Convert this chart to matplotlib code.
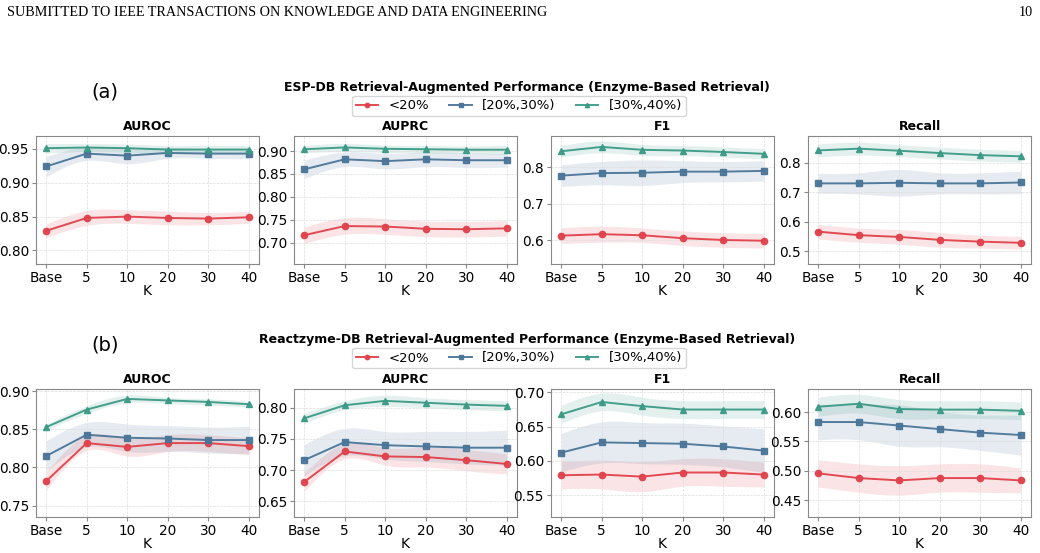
import numpy as np
import matplotlib
matplotlib.use('Agg')
import matplotlib.pyplot as plt


k_labels = ['Base', '5', '10', '20', '30', '40']
metrics = ['AUROC', 'AUPRC', 'F1', 'Recall']
groups = ['<20%', '[20%,30%)', '[30%,40%)']
colors = ['#E0414B', '#4A7598', '#3A9A86']
markers = ['o', 's', '^']

# (a) ESP-DB: mean per group, per metric
esp_mean = {
    'AUROC':  [[0.829, 0.848, 0.850, 0.848, 0.847, 0.849],
               [0.924, 0.943, 0.940, 0.944, 0.943, 0.943],
               [0.951, 0.952, 0.951, 0.949, 0.949, 0.949]],
    'AUPRC':  [[0.716, 0.736, 0.735, 0.730, 0.729, 0.731],
               [0.860, 0.882, 0.878, 0.882, 0.880, 0.880],
               [0.904, 0.908, 0.905, 0.904, 0.903, 0.903]],
    'F1':     [[0.612, 0.616, 0.613, 0.605, 0.600, 0.598],
               [0.777, 0.784, 0.785, 0.788, 0.788, 0.790],
               [0.844, 0.856, 0.848, 0.846, 0.842, 0.837]],
    'Recall': [[0.566, 0.554, 0.548, 0.538, 0.532, 0.528],
               [0.730, 0.730, 0.732, 0.730, 0.730, 0.733],
               [0.842, 0.848, 0.841, 0.833, 0.826, 0.822]],
}
esp_std = {
    'AUROC':  [[0.010, 0.011, 0.010, 0.010, 0.009, 0.009],
               [0.015, 0.010, 0.012, 0.008, 0.007, 0.007],
               [0.007, 0.006, 0.006, 0.006, 0.006, 0.006]],
    'AUPRC':  [[0.018, 0.018, 0.017, 0.017, 0.017, 0.017],
               [0.020, 0.016, 0.017, 0.016, 0.016, 0.015],
               [0.008, 0.009, 0.008, 0.008, 0.008, 0.010]],
    'F1':     [[0.022, 0.022, 0.020, 0.020, 0.020, 0.020],
               [0.030, 0.032, 0.035, 0.030, 0.028, 0.028],
               [0.016, 0.016, 0.015, 0.014, 0.014, 0.014]],
    'Recall': [[0.025, 0.024, 0.025, 0.025, 0.022, 0.022],
               [0.034, 0.036, 0.045, 0.036, 0.036, 0.038],
               [0.022, 0.022, 0.020, 0.020, 0.020, 0.020]],
}

# (b) Reactzyme-DB
rz_mean = {
    'AUROC':  [[0.782, 0.832, 0.827, 0.832, 0.832, 0.828],
               [0.815, 0.843, 0.839, 0.838, 0.836, 0.836],
               [0.853, 0.876, 0.890, 0.888, 0.886, 0.883]],
    'AUPRC':  [[0.681, 0.730, 0.722, 0.721, 0.716, 0.710],
               [0.716, 0.745, 0.740, 0.738, 0.736, 0.736],
               [0.783, 0.804, 0.811, 0.808, 0.805, 0.803]],
    'F1':     [[0.579, 0.580, 0.577, 0.583, 0.583, 0.580],
               [0.612, 0.627, 0.626, 0.625, 0.621, 0.615],
               [0.668, 0.686, 0.680, 0.675, 0.675, 0.675]],
    'Recall': [[0.496, 0.488, 0.484, 0.488, 0.488, 0.484],
               [0.583, 0.583, 0.577, 0.571, 0.565, 0.561],
               [0.609, 0.614, 0.605, 0.604, 0.604, 0.602]],
}
rz_std = {
    'AUROC':  [[0.012, 0.010, 0.012, 0.011, 0.011, 0.011],
               [0.020, 0.016, 0.018, 0.017, 0.017, 0.018],
               [0.004, 0.005, 0.005, 0.004, 0.004, 0.004]],
    'AUPRC':  [[0.015, 0.012, 0.014, 0.016, 0.017, 0.016],
               [0.025, 0.022, 0.022, 0.024, 0.026, 0.028],
               [0.008, 0.007, 0.009, 0.008, 0.008, 0.008]],
    'F1':     [[0.020, 0.021, 0.022, 0.020, 0.020, 0.018],
               [0.028, 0.030, 0.030, 0.030, 0.030, 0.032],
               [0.013, 0.013, 0.013, 0.013, 0.013, 0.013]],
    'Recall': [[0.023, 0.024, 0.025, 0.024, 0.024, 0.021],
               [0.030, 0.030, 0.035, 0.030, 0.030, 0.034],
               [0.016, 0.016, 0.016, 0.015, 0.015, 0.015]],
}

esp_ylim = {'AUROC': (0.780, 0.969), 'AUPRC': (0.653, 0.933),
            'F1': (0.534, 0.886), 'Recall': (0.456, 0.891)}
rz_ylim = {'AUROC': (0.735, 0.903), 'AUPRC': (0.625, 0.830),
           'F1': (0.518, 0.705), 'Recall': (0.422, 0.639)}
esp_ticks = {'AUROC': [0.80, 0.85, 0.90, 0.95], 'AUPRC': [0.70, 0.75, 0.80, 0.85, 0.90],
             'F1': [0.6, 0.7, 0.8], 'Recall': [0.5, 0.6, 0.7, 0.8]}
rz_ticks = {'AUROC': [0.75, 0.80, 0.85, 0.90], 'AUPRC': [0.65, 0.70, 0.75, 0.80],
            'F1': [0.55, 0.60, 0.65, 0.70], 'Recall': [0.45, 0.50, 0.55, 0.60]}


def _spline(x, y, xs):
    """Natural cubic spline, just for smooth band edges."""
    n = len(x)
    h = np.diff(x)
    A = np.zeros((n, n))
    r = np.zeros(n)
    A[0, 0] = A[-1, -1] = 1
    for i in range(1, n - 1):
        A[i, i - 1] = h[i - 1]
        A[i, i] = 2 * (h[i - 1] + h[i])
        A[i, i + 1] = h[i]
        r[i] = 3 * ((y[i + 1] - y[i]) / h[i] - (y[i] - y[i - 1]) / h[i - 1])
    c = np.linalg.solve(A, r)
    b = np.diff(y) / h - h * (2 * c[:-1] + c[1:]) / 3
    d = np.diff(c) / (3 * h)
    j = np.clip(np.searchsorted(x, xs) - 1, 0, n - 2)
    t = xs - x[j]
    return y[j] + b[j] * t + c[j] * t ** 2 + d[j] * t ** 3


def _panel(ax, title, means, stds, ylim, ticks):
    x = np.arange(len(k_labels), dtype=float)
    xs = np.linspace(0, x[-1], 200)
    for g in range(len(groups)):
        m = np.array(means[g])
        s = np.array(stds[g])
        ax.fill_between(xs, _spline(x, m - s, xs), _spline(x, m + s, xs),
                        color=colors[g], alpha=0.14, lw=0)
        ax.plot(x, m, marker=markers[g], color=colors[g], lw=1.4, ms=4.5,
                alpha=0.95, label=groups[g])
    ax.set_xlim(-0.25, 5.25)
    ax.set_ylim(*ylim)
    ax.set_yticks(ticks)
    ax.set_xticks(x, k_labels)
    ax.set_xlabel('K', fontsize=10, labelpad=-1)
    ax.set_title(title, fontsize=9, fontweight='bold', pad=4)
    ax.tick_params(labelsize=9.8, length=3, color='#888888', pad=2)
    ax.grid(True, ls='--', lw=0.5, color='#dddddd')
    for sp in ax.spines.values():
        sp.set_color('#888888')


fig = plt.figure(figsize=(10.4, 5.53), dpi=100)

fig.text(0.007, 0.978, 'SUBMITTED TO IEEE TRANSACTIONS ON KNOWLEDGE AND DATA ENGINEERING',
         family='Liberation Serif', fontsize=10.2, va='center', ha='left')
fig.text(0.993, 0.978, '10', family='Liberation Serif', fontsize=10.2, va='center', ha='right')

lefts = [36, 294, 551, 808]
rows = [(136, 'a', 'ESP-DB Retrieval-Augmented Performance (Enzyme-Based Retrieval)',
         esp_mean, esp_std, esp_ylim, esp_ticks, 87, 106, 92),
        (389, 'b', 'Reactzyme-DB Retrieval-Augmented Performance (Enzyme-Based Retrieval)',
         rz_mean, rz_std, rz_ylim, rz_ticks, 339, 358, 345)]
W, H = 1040, 553
for top, tag, sup, means, stds, ylims, ticks, sup_y, leg_y, tag_y in rows:
    axes = []
    for i, met in enumerate(metrics):
        ax = fig.add_axes([lefts[i] / W, 1 - (top + 128) / H, 223 / W, 128 / H])
        _panel(ax, met, means[met], stds[met], ylims[met], ticks[met])
        axes.append(ax)
    fig.text(527 / W, 1 - sup_y / H, sup, fontsize=9, fontweight='bold',
             ha='center', va='center')
    fig.text(105 / W, 1 - tag_y / H, f'({tag})', fontsize=14, ha='center', va='center')
    handles, labels = axes[0].get_legend_handles_labels()
    fig.legend(handles, labels, loc='center', bbox_to_anchor=(519 / W, 1 - leg_y / H),
               ncol=3, fontsize=9.5, frameon=True, handlelength=1.7, columnspacing=1.5,
               borderpad=0.3, handletextpad=0.8, markerscale=0.7)

fig.savefig('out.png', dpi=100)
